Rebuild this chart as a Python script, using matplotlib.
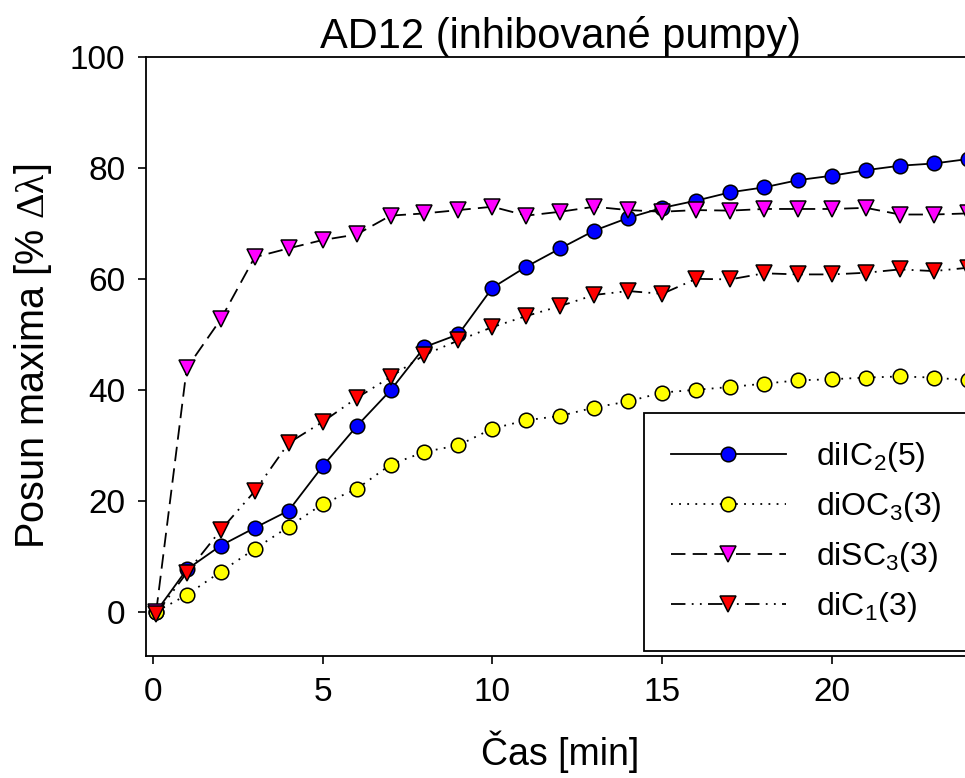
import numpy as np
import matplotlib
matplotlib.use('Agg')
import matplotlib.pyplot as plt

plt.rcParams['font.family'] = ['Liberation Sans', 'DejaVu Sans']
plt.rcParams['mathtext.fontset'] = 'custom'
plt.rcParams['mathtext.rm'] = 'Liberation Sans'
plt.rcParams['mathtext.it'] = 'Liberation Sans'
plt.rcParams['mathtext.tt'] = 'Liberation Serif'
plt.rcParams['mathtext.default'] = 'rm'

# time [min]
cas = [0.1] + list(range(1, 25))

diIC2 = [0, 7.6, 11.9, 15.1, 18.2, 26.2, 33.4, 39.9, 47.7, 50.0, 58.4, 62.2, 65.5,
         68.7, 71.0, 72.8, 74.1, 75.6, 76.5, 77.8, 78.6, 79.6, 80.4, 80.8, 81.6]
diOC3 = [0, 3.0, 7.2, 11.3, 15.3, 19.4, 22.1, 26.5, 28.8, 30.0, 33.0, 34.5, 35.3,
         36.8, 37.9, 39.5, 40.0, 40.5, 41.1, 41.7, 41.9, 42.2, 42.4, 42.2, 41.7]
diSC3 = [0, 43.9, 52.7, 63.9, 65.5, 67.0, 68.0, 71.4, 71.8, 72.4, 73.0, 71.4, 72.1,
         73.0, 72.4, 72.1, 72.4, 72.3, 72.6, 72.6, 72.6, 72.8, 71.6, 71.6, 71.8]
diC1 = [-0.4, 7.0, 14.7, 21.7, 30.4, 34.2, 38.5, 42.3, 46.3, 48.9, 51.3, 53.3, 55.1,
        57.1, 57.8, 57.3, 60.0, 59.9, 61.0, 60.8, 60.8, 61.1, 61.7, 61.4, 62.0]

fig = plt.figure(figsize=(9.65, 7.78), dpi=100)
ax = fig.add_axes([146 / 965, 122 / 778, 828 / 965, 599 / 778])

lw = 1.3
ax.plot(cas, diIC2, color='black', lw=lw, linestyle='-', marker='o', markersize=10.5,
        markerfacecolor='#0000ff', markeredgecolor='black', markeredgewidth=1.1,
        label=r'diIC$_2$(5)')
ax.plot(cas, diOC3, color='black', lw=lw, linestyle=(0, (1, 3.5)), marker='o', markersize=10.5,
        markerfacecolor='#ffff00', markeredgecolor='black', markeredgewidth=1.1,
        label=r'diOC$_3$(3)')
ax.plot(cas, diSC3, color='black', lw=lw, linestyle=(0, (8, 4)), marker='v', markersize=11.5,
        markerfacecolor='#ff00ff', markeredgecolor='black', markeredgewidth=1.1,
        label=r'diSC$_3$(3)')
ax.plot(cas, diC1, color='black', lw=lw, linestyle=(0, (8, 3.5, 1, 3.5, 1, 3.5)), marker='v',
        markersize=11.5, markerfacecolor='#ff0000', markeredgecolor='black',
        markeredgewidth=1.1, label=r'diC$_1$(3)')

ax.set_xlim(-0.2, 24.18)
ax.set_ylim(-8, 100)
ax.set_xticks([0, 5, 10, 15, 20])
ax.set_yticks([0, 20, 40, 60, 80, 100])
ax.tick_params(direction='out', length=6, width=1.2, labelsize=24, pad=9)
for s in ax.spines.values():
    s.set_linewidth(1.3)

ax.set_xlabel('Čas [min]', fontsize=27, labelpad=16)
ax.set_ylabel(r'Posun maxima [% $\mathtt{\Delta\lambda}$]', fontsize=28.5, labelpad=11)
ax.set_title('AD12 (inhibované pumpy)', fontsize=30, pad=4)

leg = ax.legend(loc='upper left', bbox_to_anchor=(0.601, 0.406), fontsize=23,
                frameon=True, fancybox=False, edgecolor='black', handlelength=3.6,
                handletextpad=0.95, labelspacing=0.5, borderpad=0.85, borderaxespad=0)
leg.get_frame().set_linewidth(1.3)
leg.get_frame().set_alpha(1)

fig.savefig('out.png', dpi=100)
